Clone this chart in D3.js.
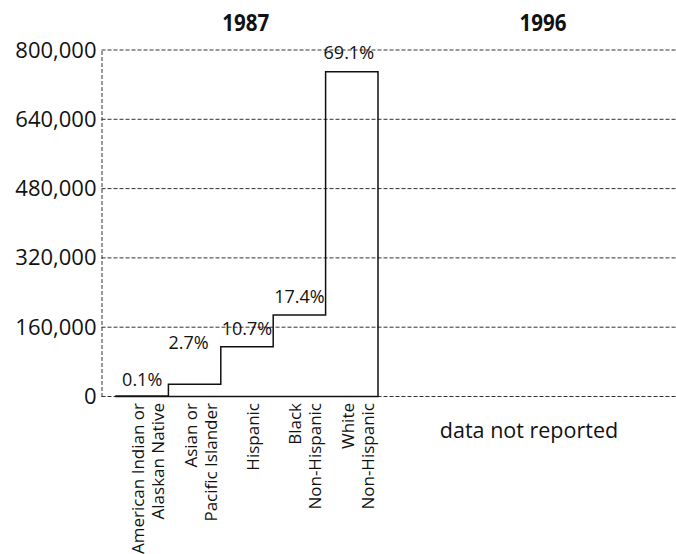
<!DOCTYPE html>
<html>
<head>
<meta charset="utf-8">
<script src="https://cdn.jsdelivr.net/npm/d3@7"></script>
<style>
  html, body { margin: 0; padding: 0; background: #fff; }
  svg { display: block; font-family: "Open Sans", "Noto Sans", sans-serif; }
</style>
</head>
<body>
<svg id="chart" width="676" height="554"></svg>
<script>
// ---- data ----
const panels = ["1987", "1996"];
const categories = [
  ["American Indian or", "Alaskan Native"],
  ["Asian or", "Pacific Islander"],
  ["Hispanic"],
  ["Black", "Non-Hispanic"],
  ["White", "Non-Hispanic"]
];
const values1987 = [1100, 28000, 115000, 188000, 750000];
const percentLabels1987 = ["0.1%", "2.7%", "10.7%", "17.4%", "69.1%"];
const yTicks = [0, 160000, 320000, 480000, 640000, 800000];
const noDataText = "data not reported";

// ---- layout ----
const svg = d3.select("#chart");
const W = 676, H = 554;
const yTop = 50, yBottom = 396.5;
const axisX = 101.5;

const panelScale = d3.scaleOrdinal().domain(panels).range([[axisX, 378], [378, 696]]);

const y = d3.scaleLinear().domain([0, 800000]).range([yBottom, yTop]);
const catKeys = categories.map(d => d.join(" "));
const x = d3.scaleBand().domain(catKeys).range([116, 378]).padding(0);

const gridColor = "#333";
const fmt = d3.format(",");

// gridlines (dashed) across both panels
svg.append("g").selectAll("line").data(yTicks).join("line")
  .attr("x1", axisX).attr("x2", W)
  .attr("y1", d => y(d)).attr("y2", d => y(d))
  .attr("stroke", gridColor).attr("stroke-width", 1)
  .attr("stroke-dasharray", "4,2");

// left axis (dashed vertical) + labels
const yAxis = d3.axisLeft(y).tickValues(yTicks).tickFormat(fmt).tickSize(0).tickPadding(5);
const ga = svg.append("g").attr("transform", `translate(${axisX},0)`).call(yAxis);
ga.select(".domain").attr("stroke", gridColor).attr("stroke-dasharray", "4,2");
ga.selectAll("text")
  .attr("font-size", 22).attr("fill", "#111")
  .attr("font-family", "'Open Sans', sans-serif");

// panel titles
panels.forEach(p => {
  const r = panelScale(p);
  svg.append("text")
    .attr("x", (r[0] + r[1]) / 2 + 6).attr("y", 31)
    .attr("text-anchor", "middle")
    .attr("font-size", 23).attr("font-weight", "bold").attr("fill", "#111")
    .attr("textLength", 47).attr("lengthAdjust", "spacingAndGlyphs")
    .text(p);
});

// step outline for 1987
let d = `M${x(catKeys[0])},${y(0)}`;
values1987.forEach((v, i) => {
  const x0 = x(catKeys[i]);
  const x1 = x0 + x.bandwidth();
  d += `V${y(v)}H${x1}`;
});
d += `V${y(0)}Z`;
svg.append("path").attr("d", d)
  .attr("fill", "none").attr("stroke", "#111").attr("stroke-width", 1.5)
  .attr("stroke-linejoin", "miter");

// percent labels
const lift = [10, 35, 12, 12, 13];
svg.append("g").selectAll("text").data(values1987).join("text")
  .attr("x", (v, i) => x(catKeys[i]) + x.bandwidth() / 2 - (i === 1 ? 6 : i === 4 ? 3 : 0))
  .attr("y", (v, i) => y(v) - lift[i])
  .attr("text-anchor", "middle")
  .attr("font-size", 18).attr("fill", "#111")
  .text((v, i) => percentLabels1987[i]);

// category labels (rotated)
categories.forEach((lines, i) => {
  const cx = x(catKeys[i]) + x.bandwidth() / 2;
  const n = lines.length;
  lines.forEach((t, j) => {
    const bx = cx + 12 + (j - (n - 1) / 2) * 20;
    svg.append("text")
      .attr("transform", `translate(${bx},403) rotate(-90)`)
      .attr("text-anchor", "end")
      .attr("font-size", 17).attr("fill", "#111")
      .text(t);
  });
});

// 1996 panel text
svg.append("text")
  .attr("x", 529).attr("y", 438)
  .attr("text-anchor", "middle")
  .attr("font-size", 21.5).attr("fill", "#111")
  .text(noDataText);
</script>
</body>
</html>
